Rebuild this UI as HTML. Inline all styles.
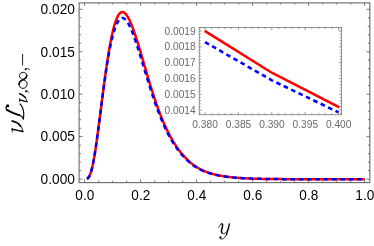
<!DOCTYPE html>
<html><head><meta charset="utf-8"><title>plot</title>
<style>html,body{margin:0;padding:0;background:#fff}svg{display:block;will-change:transform}text{font-family:"Liberation Sans",sans-serif}</style></head><body>
<svg width="374" height="246" viewBox="0 0 374 246">
<rect width="374" height="246" fill="#fff"/>
<clipPath id="c"><rect x="79.10" y="2.90" width="290.75" height="179.75"/></clipPath>
<g clip-path="url(#c)" fill="none" stroke-linejoin="round">
<path d="M86.98 178.85 L87.67 178.40 L88.37 177.69 L89.06 176.68 L89.76 175.31 L90.45 173.57 L91.14 171.44 L91.84 168.90 L92.53 165.95 L93.23 162.62 L93.92 158.91 L94.61 154.86 L95.31 150.49 L96.00 145.86 L96.70 140.99 L97.39 135.93 L98.08 130.72 L98.78 125.41 L99.47 120.04 L100.17 114.64 L100.86 109.22 L101.56 103.78 L102.25 98.36 L102.94 92.97 L103.64 87.64 L104.33 82.40 L105.03 77.27 L105.72 72.25 L106.41 67.38 L107.11 62.67 L107.80 58.12 L108.50 53.76 L109.19 49.59 L109.88 45.62 L110.58 41.87 L111.27 38.33 L111.97 35.01 L112.66 31.92 L113.35 29.05 L114.05 26.42 L114.74 24.01 L115.44 21.84 L116.13 19.89 L116.82 18.17 L117.52 16.67 L118.21 15.39 L118.91 14.33 L119.60 13.47 L120.29 12.83 L120.99 12.38 L121.68 12.12 L122.38 12.05 L123.07 12.16 L123.76 12.43 L124.46 12.87 L125.15 13.45 L125.85 14.18 L126.54 15.06 L127.23 16.06 L127.93 17.19 L128.62 18.43 L129.32 19.79 L130.01 21.26 L130.71 22.82 L131.40 24.47 L132.09 26.21 L132.79 28.03 L133.48 29.92 L134.18 31.88 L134.87 33.90 L135.56 35.98 L136.26 38.11 L136.95 40.28 L137.65 42.49 L138.34 44.74 L139.03 47.02 L139.73 49.32 L140.42 51.65 L141.12 53.99 L141.81 56.35 L142.50 58.71 L143.20 61.09 L143.89 63.46 L144.59 65.84 L145.28 68.21 L145.97 70.58 L146.67 72.94 L147.36 75.28 L148.06 77.62 L148.75 79.93 L149.44 82.23 L150.14 84.51 L150.83 86.77 L151.53 89.00 L152.22 91.21 L152.91 93.39 L153.61 95.53 L154.30 97.65 L155.00 99.73 L155.69 101.77 L156.38 103.79 L157.08 105.76 L157.77 107.70 L158.47 109.61 L159.16 111.47 L159.86 113.30 L160.55 115.10 L161.24 116.85 L161.94 118.57 L162.63 120.26 L163.33 121.90 L164.02 123.51 L164.71 125.08 L165.41 126.62 L166.10 128.12 L166.80 129.59 L167.49 131.02 L168.18 132.41 L168.88 133.78 L169.57 135.11 L170.27 136.40 L170.96 137.67 L171.65 138.90 L172.35 140.11 L173.04 141.28 L173.74 142.42 L174.43 143.53 L175.12 144.62 L175.82 145.68 L176.51 146.71 L177.21 147.71 L177.90 148.69 L178.59 149.64 L179.29 150.57 L179.98 151.47 L180.68 152.35 L181.37 153.21 L182.06 154.04 L182.76 154.86 L183.45 155.65 L184.15 156.42 L184.84 157.17 L185.54 157.90 L186.23 158.61 L186.92 159.30 L187.62 159.98 L188.31 160.63 L189.01 161.27 L189.70 161.89 L190.39 162.49 L191.09 163.07 L191.78 163.63 L192.48 164.17 L193.17 164.70 L193.86 165.21 L194.56 165.70 L195.25 166.18 L195.95 166.64 L196.64 167.09 L197.33 167.52 L198.03 167.94 L198.72 168.34 L199.42 168.73 L200.11 169.10 L200.80 169.46 L201.50 169.81 L202.19 170.14 L202.89 170.46 L203.58 170.77 L204.27 171.07 L204.97 171.36 L205.66 171.64 L206.36 171.91 L207.05 172.16 L207.74 172.41 L208.44 172.65 L209.13 172.88 L209.83 173.11 L210.52 173.32 L211.21 173.53 L211.91 173.73 L212.60 173.92 L213.30 174.11 L213.99 174.29 L214.69 174.46 L215.38 174.63 L216.07 174.79 L216.77 174.94 L217.46 175.09 L218.16 175.24 L218.85 175.38 L219.54 175.51 L220.24 175.64 L220.93 175.77 L221.63 175.89 L222.32 176.01 L223.01 176.12 L223.71 176.23 L224.40 176.34 L225.10 176.44 L225.79 176.54 L226.48 176.64 L227.18 176.73 L227.87 176.82 L228.57 176.91 L229.26 176.99 L229.95 177.07 L230.65 177.15 L231.34 177.23 L232.04 177.30 L232.73 177.37 L233.42 177.44 L234.12 177.51 L234.81 177.57 L235.51 177.64 L236.20 177.70 L236.89 177.75 L237.59 177.81 L238.28 177.87 L238.98 177.92 L239.67 177.97 L240.37 178.02 L241.06 178.07 L241.75 178.11 L242.45 178.16 L243.14 178.20 L243.84 178.24 L244.53 178.28 L245.22 178.32 L245.92 178.35 L246.61 178.39 L247.31 178.42 L248.00 178.45 L248.69 178.48 L249.39 178.51 L250.08 178.54 L250.78 178.57 L251.47 178.59 L252.16 178.62 L252.86 178.64 L253.55 178.67 L254.25 178.69 L254.94 178.71 L255.63 178.73 L256.33 178.75 L257.02 178.77 L257.72 178.79 L258.41 178.81 L259.10 178.82 L259.80 178.84 L260.49 178.85 L261.19 178.87 L261.88 178.88 L262.57 178.90 L263.27 178.91 L263.96 178.92 L264.66 178.94 L265.35 178.95 L266.04 178.96 L266.74 178.97 L267.43 178.98 L268.13 178.99 L268.82 179.00 L269.52 179.01 L270.21 179.02 L270.90 179.03 L271.60 179.03 L272.29 179.04 L272.99 179.05 L273.68 179.06 L274.37 179.06 L275.07 179.07 L275.76 179.08 L276.46 179.08 L277.15 179.09 L277.84 179.09 L278.54 179.10 L279.23 179.10 L279.93 179.11 L280.62 179.11 L281.31 179.12 L282.01 179.12 L282.70 179.13 L283.40 179.13 L284.09 179.13 L284.78 179.14 L285.48 179.14 L286.17 179.14 L286.87 179.15 L287.56 179.15 L288.25 179.15 L288.95 179.16 L289.64 179.16 L290.34 179.16 L291.03 179.16 L291.72 179.17 L292.42 179.17 L293.11 179.17 L293.81 179.17 L294.50 179.17 L295.19 179.18 L295.89 179.18 L296.58 179.18 L297.28 179.18 L297.97 179.18 L298.67 179.19 L299.36 179.19 L300.05 179.19 L300.75 179.19 L301.44 179.19 L302.14 179.19 L302.83 179.19 L303.52 179.19 L304.22 179.20 L304.91 179.20 L305.61 179.20 L306.30 179.20 L306.99 179.20 L307.69 179.20 L308.38 179.20 L309.08 179.20 L309.77 179.20 L310.46 179.20 L311.16 179.20 L311.85 179.20 L312.55 179.21 L313.24 179.21 L313.93 179.21 L314.63 179.21 L315.32 179.21 L316.02 179.21 L316.71 179.21 L317.40 179.21 L318.10 179.21 L318.79 179.21 L319.49 179.21 L320.18 179.21 L320.87 179.21 L321.57 179.21 L322.26 179.21 L322.96 179.21 L323.65 179.21 L324.35 179.21 L325.04 179.21 L325.73 179.21 L326.43 179.21 L327.12 179.21 L327.82 179.21 L328.51 179.21 L329.20 179.22 L329.90 179.22 L330.59 179.22 L331.29 179.22 L331.98 179.22 L332.67 179.22 L333.37 179.22 L334.06 179.22 L334.76 179.22 L335.45 179.22 L336.14 179.22 L336.84 179.22 L337.53 179.22 L338.23 179.22 L338.92 179.22 L339.61 179.22 L340.31 179.22 L341.00 179.22 L341.70 179.22 L342.39 179.22 L343.08 179.22 L343.78 179.22 L344.47 179.22 L345.17 179.22 L345.86 179.22 L346.55 179.22 L347.25 179.22 L347.94 179.22 L348.64 179.22 L349.33 179.22 L350.02 179.22 L350.72 179.22 L351.41 179.22 L352.11 179.22 L352.80 179.22 L353.50 179.22 L354.19 179.22 L354.88 179.22 L355.58 179.22 L356.27 179.22 L356.97 179.22 L357.66 179.22 L358.35 179.22 L359.05 179.22 L359.74 179.22 L360.44 179.22 L361.13 179.22 L361.82 179.22 L362.52 179.22 L363.21 179.22 L363.91 179.22 L364.60 179.22" stroke="#ff0000" stroke-width="2.5"/>
<path d="M86.98 178.85 L87.67 178.40 L88.37 177.69 L89.06 176.68 L89.76 175.31 L90.45 173.57 L91.14 171.44 L91.84 168.90 L92.53 165.95 L93.23 162.62 L93.92 158.91 L94.61 154.86 L95.31 150.49 L96.00 145.86 L96.70 140.99 L97.39 135.93 L98.08 130.72 L98.78 125.41 L99.47 120.04 L100.17 114.65 L100.86 109.24 L101.56 103.84 L102.25 98.48 L102.94 93.18 L103.64 87.98 L104.33 82.89 L105.03 77.94 L105.72 73.14 L106.41 68.51 L107.11 64.07 L107.80 59.81 L108.50 55.76 L109.19 51.92 L109.88 48.30 L110.58 44.89 L111.27 41.71 L111.97 38.74 L112.66 35.99 L113.35 33.45 L114.05 31.12 L114.74 29.00 L115.44 27.08 L116.13 25.34 L116.82 23.79 L117.52 22.42 L118.21 21.21 L118.91 20.18 L119.60 19.36 L120.29 18.73 L120.99 18.30 L121.68 18.05 L122.38 17.99 L123.07 18.09 L123.76 18.36 L124.46 18.77 L125.15 19.34 L125.85 20.04 L126.54 20.88 L127.23 21.85 L127.93 22.94 L128.62 24.14 L129.32 25.45 L130.01 26.86 L130.71 28.37 L131.40 29.97 L132.09 31.64 L132.79 33.40 L133.48 35.22 L134.18 37.11 L134.87 39.06 L135.56 41.06 L136.26 43.11 L136.95 45.21 L137.65 47.34 L138.34 49.51 L139.03 51.71 L139.73 53.93 L140.42 56.17 L141.12 58.43 L141.81 60.71 L142.50 62.99 L143.20 65.28 L143.89 67.57 L144.59 69.86 L145.28 72.15 L145.97 74.44 L146.67 76.71 L147.36 78.97 L148.06 81.22 L148.75 83.46 L149.44 85.67 L150.14 87.87 L150.83 90.05 L151.53 92.20 L152.22 94.33 L152.91 96.43 L153.61 98.50 L154.30 100.54 L155.00 102.55 L155.69 104.52 L156.38 106.46 L157.08 108.37 L157.77 110.24 L158.47 112.08 L159.16 113.88 L159.86 115.64 L160.55 117.37 L161.24 119.07 L161.94 120.73 L162.63 122.35 L163.33 123.94 L164.02 125.49 L164.71 127.00 L165.41 128.49 L166.10 129.93 L166.80 131.35 L167.49 132.73 L168.18 134.07 L168.88 135.39 L169.57 136.67 L170.27 137.92 L170.96 139.14 L171.65 140.33 L172.35 141.49 L173.04 142.63 L173.74 143.73 L174.43 144.80 L175.12 145.85 L175.82 146.87 L176.51 147.86 L177.21 148.83 L177.90 149.77 L178.59 150.69 L179.29 151.59 L179.98 152.46 L180.68 153.31 L181.37 154.13 L182.06 154.94 L182.76 155.72 L183.45 156.48 L184.15 157.23 L184.84 157.95 L185.54 158.66 L186.23 159.34 L186.92 160.01 L187.62 160.66 L188.31 161.29 L189.01 161.91 L189.70 162.50 L190.39 163.08 L191.09 163.64 L191.78 164.18 L192.48 164.71 L193.17 165.21 L193.86 165.71 L194.56 166.18 L195.25 166.64 L195.95 167.09 L196.64 167.52 L197.33 167.94 L198.03 168.34 L198.72 168.73 L199.42 169.10 L200.11 169.46 L200.80 169.81 L201.50 170.14 L202.19 170.46 L202.89 170.77 L203.58 171.07 L204.27 171.36 L204.97 171.64 L205.66 171.91 L206.36 172.17 L207.05 172.41 L207.74 172.65 L208.44 172.89 L209.13 173.11 L209.83 173.32 L210.52 173.53 L211.21 173.73 L211.91 173.92 L212.60 174.11 L213.30 174.29 L213.99 174.46 L214.69 174.63 L215.38 174.79 L216.07 174.95 L216.77 175.10 L217.46 175.24 L218.16 175.38 L218.85 175.52 L219.54 175.65 L220.24 175.77 L220.93 175.89 L221.63 176.01 L222.32 176.12 L223.01 176.23 L223.71 176.34 L224.40 176.44 L225.10 176.54 L225.79 176.64 L226.48 176.73 L227.18 176.82 L227.87 176.91 L228.57 176.99 L229.26 177.07 L229.95 177.15 L230.65 177.22 L231.34 177.30 L232.04 177.37 L232.73 177.44 L233.42 177.50 L234.12 177.57 L234.81 177.63 L235.51 177.69 L236.20 177.75 L236.89 177.81 L237.59 177.86 L238.28 177.91 L238.98 177.97 L239.67 178.01 L240.37 178.06 L241.06 178.11 L241.75 178.15 L242.45 178.19 L243.14 178.23 L243.84 178.27 L244.53 178.31 L245.22 178.35 L245.92 178.38 L246.61 178.42 L247.31 178.45 L248.00 178.48 L248.69 178.51 L249.39 178.54 L250.08 178.56 L250.78 178.59 L251.47 178.62 L252.16 178.64 L252.86 178.66 L253.55 178.69 L254.25 178.71 L254.94 178.73 L255.63 178.75 L256.33 178.77 L257.02 178.79 L257.72 178.80 L258.41 178.82 L259.10 178.84 L259.80 178.85 L260.49 178.87 L261.19 178.88 L261.88 178.90 L262.57 178.91 L263.27 178.92 L263.96 178.93 L264.66 178.95 L265.35 178.96 L266.04 178.97 L266.74 178.98 L267.43 178.99 L268.13 179.00 L268.82 179.01 L269.52 179.02 L270.21 179.02 L270.90 179.03 L271.60 179.04 L272.29 179.05 L272.99 179.05 L273.68 179.06 L274.37 179.07 L275.07 179.07 L275.76 179.08 L276.46 179.09 L277.15 179.09 L277.84 179.10 L278.54 179.10 L279.23 179.11 L279.93 179.11 L280.62 179.12 L281.31 179.12 L282.01 179.12 L282.70 179.13 L283.40 179.13 L284.09 179.14 L284.78 179.14 L285.48 179.14 L286.17 179.15 L286.87 179.15 L287.56 179.15 L288.25 179.16 L288.95 179.16 L289.64 179.16 L290.34 179.16 L291.03 179.17 L291.72 179.17 L292.42 179.17 L293.11 179.17 L293.81 179.17 L294.50 179.18 L295.19 179.18 L295.89 179.18 L296.58 179.18 L297.28 179.18 L297.97 179.18 L298.67 179.19 L299.36 179.19 L300.05 179.19 L300.75 179.19 L301.44 179.19 L302.14 179.19 L302.83 179.19 L303.52 179.20 L304.22 179.20 L304.91 179.20 L305.61 179.20 L306.30 179.20 L306.99 179.20 L307.69 179.20 L308.38 179.20 L309.08 179.20 L309.77 179.20 L310.46 179.20 L311.16 179.20 L311.85 179.21 L312.55 179.21 L313.24 179.21 L313.93 179.21 L314.63 179.21 L315.32 179.21 L316.02 179.21 L316.71 179.21 L317.40 179.21 L318.10 179.21 L318.79 179.21 L319.49 179.21 L320.18 179.21 L320.87 179.21 L321.57 179.21 L322.26 179.21 L322.96 179.21 L323.65 179.21 L324.35 179.21 L325.04 179.21 L325.73 179.21 L326.43 179.21 L327.12 179.21 L327.82 179.21 L328.51 179.21 L329.20 179.22 L329.90 179.22 L330.59 179.22 L331.29 179.22 L331.98 179.22 L332.67 179.22 L333.37 179.22 L334.06 179.22 L334.76 179.22 L335.45 179.22 L336.14 179.22 L336.84 179.22 L337.53 179.22 L338.23 179.22 L338.92 179.22 L339.61 179.22 L340.31 179.22 L341.00 179.22 L341.70 179.22 L342.39 179.22 L343.08 179.22 L343.78 179.22 L344.47 179.22 L345.17 179.22 L345.86 179.22 L346.55 179.22 L347.25 179.22 L347.94 179.22 L348.64 179.22 L349.33 179.22 L350.02 179.22 L350.72 179.22 L351.41 179.22 L352.11 179.22 L352.80 179.22 L353.50 179.22 L354.19 179.22 L354.88 179.22 L355.58 179.22 L356.27 179.22 L356.97 179.22 L357.66 179.22 L358.35 179.22 L359.05 179.22 L359.74 179.22 L360.44 179.22 L361.13 179.22 L361.82 179.22 L362.52 179.22 L363.21 179.22 L363.91 179.22 L364.60 179.22" stroke="#0000ff" stroke-width="2.5" stroke-dasharray="4.66 3.67"/>
</g>
<path d="M84.60 182.65 v-3.30 M84.60 2.90 v3.00 M98.60 182.65 v-1.90 M98.60 2.90 v1.60 M112.60 182.65 v-1.90 M112.60 2.90 v1.60 M126.60 182.65 v-1.90 M126.60 2.90 v1.60 M140.60 182.65 v-3.30 M140.60 2.90 v3.00 M154.60 182.65 v-1.90 M154.60 2.90 v1.60 M168.60 182.65 v-1.90 M168.60 2.90 v1.60 M182.60 182.65 v-1.90 M182.60 2.90 v1.60 M196.60 182.65 v-3.30 M196.60 2.90 v3.00 M210.60 182.65 v-1.90 M210.60 2.90 v1.60 M224.60 182.65 v-1.90 M224.60 2.90 v1.60 M238.60 182.65 v-1.90 M238.60 2.90 v1.60 M252.60 182.65 v-3.30 M252.60 2.90 v3.00 M266.60 182.65 v-1.90 M266.60 2.90 v1.60 M280.60 182.65 v-1.90 M280.60 2.90 v1.60 M294.60 182.65 v-1.90 M294.60 2.90 v1.60 M308.60 182.65 v-3.30 M308.60 2.90 v3.00 M322.60 182.65 v-1.90 M322.60 2.90 v1.60 M336.60 182.65 v-1.90 M336.60 2.90 v1.60 M350.60 182.65 v-1.90 M350.60 2.90 v1.60 M364.60 182.65 v-3.30 M364.60 2.90 v3.00 M79.10 179.10 h3.40 M369.85 179.10 h-3.40 M79.10 170.61 h2.00 M369.85 170.61 h-2.00 M79.10 162.12 h2.00 M369.85 162.12 h-2.00 M79.10 153.63 h2.00 M369.85 153.63 h-2.00 M79.10 145.14 h2.00 M369.85 145.14 h-2.00 M79.10 136.65 h3.40 M369.85 136.65 h-3.40 M79.10 128.16 h2.00 M369.85 128.16 h-2.00 M79.10 119.67 h2.00 M369.85 119.67 h-2.00 M79.10 111.18 h2.00 M369.85 111.18 h-2.00 M79.10 102.69 h2.00 M369.85 102.69 h-2.00 M79.10 94.20 h3.40 M369.85 94.20 h-3.40 M79.10 85.71 h2.00 M369.85 85.71 h-2.00 M79.10 77.22 h2.00 M369.85 77.22 h-2.00 M79.10 68.73 h2.00 M369.85 68.73 h-2.00 M79.10 60.24 h2.00 M369.85 60.24 h-2.00 M79.10 51.75 h3.40 M369.85 51.75 h-3.40 M79.10 43.26 h2.00 M369.85 43.26 h-2.00 M79.10 34.77 h2.00 M369.85 34.77 h-2.00 M79.10 26.28 h2.00 M369.85 26.28 h-2.00 M79.10 17.79 h2.00 M369.85 17.79 h-2.00 M79.10 9.30 h3.40 M369.85 9.30 h-3.40" stroke="#262626" stroke-width="0.62" fill="none"/>
<rect x="79.10" y="2.90" width="290.75" height="179.75" fill="none" stroke="#5a5a5a" stroke-width="1"/>
<text transform="translate(75.0 183.85) scale(0.935 1)" font-size="14.7" text-anchor="end" fill="#000">0.000</text>
<text transform="translate(75.0 141.40) scale(0.935 1)" font-size="14.7" text-anchor="end" fill="#000">0.005</text>
<text transform="translate(75.0 98.95) scale(0.935 1)" font-size="14.7" text-anchor="end" fill="#000">0.010</text>
<text transform="translate(75.0 56.50) scale(0.935 1)" font-size="14.7" text-anchor="end" fill="#000">0.015</text>
<text transform="translate(75.0 14.05) scale(0.935 1)" font-size="14.7" text-anchor="end" fill="#000">0.020</text>
<text transform="translate(84.80 200.1) scale(0.925 1)" font-size="14.7" text-anchor="middle" fill="#000">0.0</text>
<text transform="translate(140.80 200.1) scale(0.925 1)" font-size="14.7" text-anchor="middle" fill="#000">0.2</text>
<text transform="translate(196.80 200.1) scale(0.925 1)" font-size="14.7" text-anchor="middle" fill="#000">0.4</text>
<text transform="translate(252.80 200.1) scale(0.925 1)" font-size="14.7" text-anchor="middle" fill="#000">0.6</text>
<text transform="translate(308.80 200.1) scale(0.925 1)" font-size="14.7" text-anchor="middle" fill="#000">0.8</text>
<text transform="translate(364.80 200.1) scale(0.925 1)" font-size="14.7" text-anchor="middle" fill="#000">1.0</text>
<rect x="199.20" y="27.40" width="142.30" height="87.35" fill="#fff"/>
<clipPath id="ci"><rect x="199.20" y="27.40" width="142.30" height="87.35"/></clipPath>
<g clip-path="url(#ci)" fill="none">
<path d="M204.67 30.89 L271.80 72.74 L339.40 107.32" stroke="#ff0000" stroke-width="2.6"/>
<path d="M205.00 42.10 L271.80 80.31 L338.60 112.37" stroke="#0000ff" stroke-width="2.6" stroke-dasharray="4.6 3.6"/>
</g>
<path d="M205.00 114.75 v-2.60 M205.00 27.40 v2.60 M211.68 114.75 v-1.60 M211.68 27.40 v1.60 M218.36 114.75 v-1.60 M218.36 27.40 v1.60 M225.04 114.75 v-1.60 M225.04 27.40 v1.60 M231.72 114.75 v-1.60 M231.72 27.40 v1.60 M238.40 114.75 v-2.60 M238.40 27.40 v2.60 M245.08 114.75 v-1.60 M245.08 27.40 v1.60 M251.76 114.75 v-1.60 M251.76 27.40 v1.60 M258.44 114.75 v-1.60 M258.44 27.40 v1.60 M265.12 114.75 v-1.60 M265.12 27.40 v1.60 M271.80 114.75 v-2.60 M271.80 27.40 v2.60 M278.48 114.75 v-1.60 M278.48 27.40 v1.60 M285.16 114.75 v-1.60 M285.16 27.40 v1.60 M291.84 114.75 v-1.60 M291.84 27.40 v1.60 M298.52 114.75 v-1.60 M298.52 27.40 v1.60 M305.20 114.75 v-2.60 M305.20 27.40 v2.60 M311.88 114.75 v-1.60 M311.88 27.40 v1.60 M318.56 114.75 v-1.60 M318.56 27.40 v1.60 M325.24 114.75 v-1.60 M325.24 27.40 v1.60 M331.92 114.75 v-1.60 M331.92 27.40 v1.60 M338.60 114.75 v-2.60 M338.60 27.40 v2.60 M199.20 113.16 h1.60 M341.50 113.16 h-1.60 M199.20 110.00 h2.60 M341.50 110.00 h-2.60 M199.20 106.84 h1.60 M341.50 106.84 h-1.60 M199.20 103.68 h1.60 M341.50 103.68 h-1.60 M199.20 100.53 h1.60 M341.50 100.53 h-1.60 M199.20 97.37 h1.60 M341.50 97.37 h-1.60 M199.20 94.21 h2.60 M341.50 94.21 h-2.60 M199.20 91.05 h1.60 M341.50 91.05 h-1.60 M199.20 87.89 h1.60 M341.50 87.89 h-1.60 M199.20 84.74 h1.60 M341.50 84.74 h-1.60 M199.20 81.58 h1.60 M341.50 81.58 h-1.60 M199.20 78.42 h2.60 M341.50 78.42 h-2.60 M199.20 75.26 h1.60 M341.50 75.26 h-1.60 M199.20 72.10 h1.60 M341.50 72.10 h-1.60 M199.20 68.95 h1.60 M341.50 68.95 h-1.60 M199.20 65.79 h1.60 M341.50 65.79 h-1.60 M199.20 62.63 h2.60 M341.50 62.63 h-2.60 M199.20 59.47 h1.60 M341.50 59.47 h-1.60 M199.20 56.31 h1.60 M341.50 56.31 h-1.60 M199.20 53.16 h1.60 M341.50 53.16 h-1.60 M199.20 50.00 h1.60 M341.50 50.00 h-1.60 M199.20 46.84 h2.60 M341.50 46.84 h-2.60 M199.20 43.68 h1.60 M341.50 43.68 h-1.60 M199.20 40.52 h1.60 M341.50 40.52 h-1.60 M199.20 37.37 h1.60 M341.50 37.37 h-1.60 M199.20 34.21 h1.60 M341.50 34.21 h-1.60 M199.20 31.05 h2.60 M341.50 31.05 h-2.60 M199.20 27.89 h1.60 M341.50 27.89 h-1.60" stroke="#6a6a6a" stroke-width="0.7" fill="none"/>
<rect x="199.20" y="27.40" width="142.30" height="87.35" fill="none" stroke="#777" stroke-width="0.8"/>
<text transform="translate(195.7 113.60) scale(1.02 1)" font-size="10" text-anchor="end" fill="#6a6a6a">0.0014</text>
<text transform="translate(195.7 97.81) scale(1.02 1)" font-size="10" text-anchor="end" fill="#6a6a6a">0.0015</text>
<text transform="translate(195.7 82.02) scale(1.02 1)" font-size="10" text-anchor="end" fill="#6a6a6a">0.0016</text>
<text transform="translate(195.7 66.23) scale(1.02 1)" font-size="10" text-anchor="end" fill="#6a6a6a">0.0017</text>
<text transform="translate(195.7 50.44) scale(1.02 1)" font-size="10" text-anchor="end" fill="#6a6a6a">0.0018</text>
<text transform="translate(195.7 34.65) scale(1.02 1)" font-size="10" text-anchor="end" fill="#6a6a6a">0.0019</text>
<text transform="translate(205.10 127.6) scale(1.02 1)" font-size="10" text-anchor="middle" fill="#6a6a6a">0.380</text>
<text transform="translate(238.50 127.6) scale(1.02 1)" font-size="10" text-anchor="middle" fill="#6a6a6a">0.385</text>
<text transform="translate(271.90 127.6) scale(1.02 1)" font-size="10" text-anchor="middle" fill="#6a6a6a">0.390</text>
<text transform="translate(305.30 127.6) scale(1.02 1)" font-size="10" text-anchor="middle" fill="#6a6a6a">0.395</text>
<text transform="translate(338.70 127.6) scale(1.02 1)" font-size="10" text-anchor="middle" fill="#6a6a6a">0.400</text>
<g fill="none" stroke="#000" stroke-linecap="round" stroke-linejoin="round"><path d="M218.70 227.40 C218.90 227.00 219.43 225.58 219.90 225.00 C220.37 224.42 221.23 224.08 221.50 223.90" stroke-width="0.70" /><path d="M221.50 223.90 C221.68 224.00 222.47 223.90 222.60 224.50 C222.73 225.10 222.50 226.42 222.30 227.50 C222.10 228.58 221.45 230.08 221.40 231.00 C221.35 231.92 221.90 232.67 222.00 233.00" stroke-width="1.45" /><path d="M222.00 233.00 C222.27 233.13 222.93 233.88 223.60 233.80 C224.27 233.72 225.30 233.15 226.00 232.50 C226.70 231.85 227.50 230.33 227.80 229.90" stroke-width="0.80" /><path d="M229.40 223.90 C229.16 224.88 228.43 227.97 227.95 229.75 C227.47 231.53 226.74 233.79 226.50 234.60" stroke-width="1.35" /><path d="M226.50 234.60 C226.18 235.10 225.32 236.85 224.60 237.60 C223.88 238.35 222.93 238.97 222.20 239.10 C221.47 239.23 220.53 238.52 220.20 238.40" stroke-width="0.85" /><circle cx="220.40" cy="237.30" r="1.10" fill="#000" stroke="none"/><path d="M12.20 128.30 C12.20 128.90 12.20 131.30 12.20 131.90" stroke-width="0.90" /><path d="M12.20 129.30 C13.98 129.67 21.12 131.13 22.90 131.50" stroke-width="1.40" /><path d="M22.90 131.50 C22.75 130.98 22.38 129.28 22.00 128.40 C21.62 127.52 20.83 126.57 20.60 126.20" stroke-width="0.90" /><path d="M20.60 126.20 C20.05 125.65 18.70 123.77 17.30 122.90 C15.90 122.03 13.05 121.32 12.20 121.00" stroke-width="1.70" /><circle cx="7.70" cy="105.80" r="1.55" fill="#000" stroke="none"/><path d="M7.30 105.90 C7.08 106.15 6.03 106.75 5.95 107.40 C5.87 108.05 6.66 109.40 6.80 109.80" stroke-width="1.20" /><path d="M6.80 109.80 C7.78 110.32 10.58 112.00 12.70 112.90 C14.82 113.80 18.37 114.82 19.50 115.20" stroke-width="1.90" /><path d="M19.50 115.20 C19.91 115.43 21.30 115.95 21.95 116.60 C22.60 117.25 23.16 118.68 23.40 119.10" stroke-width="1.20" /><path d="M23.40 118.80 C23.46 117.95 23.78 115.20 23.75 113.70 C23.72 112.20 23.50 111.02 23.20 109.80 C22.90 108.58 22.48 107.38 21.95 106.40 C21.42 105.43 20.32 104.36 20.00 103.95" stroke-width="1.15" /><path d="M19.65 98.60 C19.65 99.08 19.65 101.02 19.65 101.50" stroke-width="0.85" /><path d="M19.65 99.90 C20.88 100.21 25.77 101.44 27.00 101.75" stroke-width="1.25" /><path d="M27.00 101.75 C26.88 101.36 26.58 100.09 26.30 99.40 C26.02 98.71 25.47 97.90 25.30 97.60" stroke-width="0.85" /><path d="M25.30 97.60 C24.83 97.18 23.44 95.74 22.50 95.10 C21.56 94.46 20.12 93.97 19.65 93.75" stroke-width="1.45" /><circle cx="26.00" cy="91.30" r="0.95" fill="#000" stroke="none"/><path d="M26.00 91.00 C26.27 90.98 27.17 90.68 27.60 90.90 C28.03 91.12 28.43 92.07 28.60 92.30" stroke-width="0.75" /><path d="M23.10 79.70 C23.58 79.38 25.38 78.48 26.00 77.80 C26.62 77.12 26.90 76.40 26.80 75.60 C26.70 74.80 26.02 73.55 25.40 73.00 C24.78 72.45 23.90 72.27 23.10 72.30 C22.30 72.33 21.22 72.65 20.60 73.20 C19.98 73.75 19.43 74.80 19.40 75.60 C19.37 76.40 19.78 77.32 20.40 78.00 C21.02 78.68 22.12 79.10 23.10 79.70 C24.08 80.30 25.62 80.85 26.30 81.60 C26.98 82.35 27.28 83.27 27.20 84.20 C27.12 85.13 26.48 86.50 25.80 87.20 C25.12 87.90 24.03 88.38 23.10 88.40 C22.17 88.42 20.88 87.98 20.20 87.30 C19.52 86.62 19.03 85.25 19.00 84.30 C18.97 83.35 19.32 82.37 20.00 81.60 C20.68 80.83 22.58 80.02 23.10 79.70" stroke-width="0.95" /><path d="M26.75 75.20 C26.61 75.63 26.51 77.05 25.90 77.80 C25.29 78.55 24.08 79.05 23.10 79.70 C22.12 80.35 20.68 80.88 20.00 81.70 C19.32 82.52 19.21 84.12 19.05 84.60" stroke-width="1.50" /><circle cx="25.60" cy="69.20" r="0.95" fill="#000" stroke="none"/><path d="M25.60 68.90 C25.93 68.83 26.95 68.38 27.60 68.50 C28.25 68.62 29.18 69.42 29.50 69.60" stroke-width="0.75" /><path d="M22.60 54.30 C22.60 56.10 22.60 63.30 22.60 65.10" stroke-width="0.90" /></g>
</svg></body></html>
